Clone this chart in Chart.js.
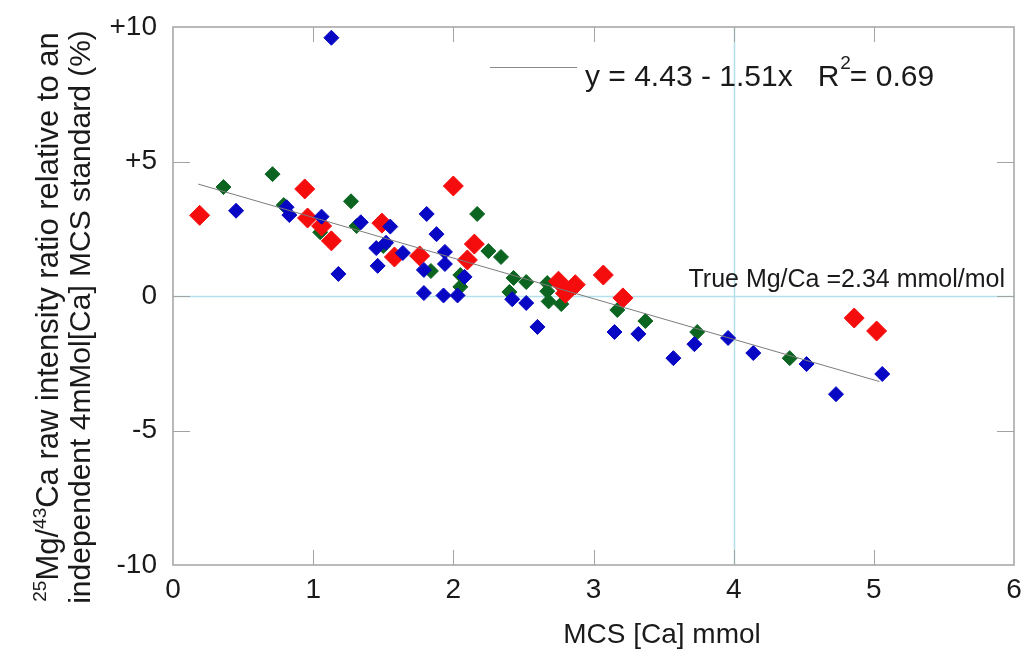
<!DOCTYPE html>
<html>
<head>
<meta charset="utf-8">
<script src="https://cdn.jsdelivr.net/npm/chart.js@4/dist/chart.umd.min.js"></script>
<style>
  html, body { margin: 0; padding: 0; background: #ffffff; }
  #wrap { width: 1026px; height: 657px; }
</style>
</head>
<body>
<div id="wrap"><canvas id="c" width="1026" height="657"></canvas></div>
<script>
// ---- data ----
const blueX = [1.13, 0.45, 0.81, 0.83, 1.06, 1.18, 1.34, 1.55, 1.45, 1.52, 1.46, 1.64, 1.81, 1.88, 1.94, 1.94, 1.79, 1.79, 1.93, 2.03, 2.08, 2.42, 2.52, 2.60, 3.15, 3.32, 3.57, 3.72, 3.96, 4.14, 4.52, 4.73, 5.06];
const blueY = [9.60, 3.17, 3.30, 3.01, 2.95, 0.82, 2.74, 2.58, 1.78, 1.98, 1.12, 1.60, 3.05, 2.30, 1.64, 1.19, 0.97, 0.11, 0.02, 0.02, 0.71, -0.12, -0.26, -1.15, -1.34, -1.41, -2.31, -1.79, -1.56, -2.12, -2.53, -3.65, -2.90];

const greenX = [0.36, 0.71, 0.79, 1.05, 1.27, 1.31, 1.50, 1.84, 2.05, 2.05, 2.17, 2.25, 2.34, 2.43, 2.52, 2.40, 2.67, 2.67, 2.68, 2.77, 3.17, 3.37, 3.74, 4.40];
const greenY = [4.05, 4.53, 3.38, 2.37, 3.52, 2.60, 1.86, 0.93, 0.78, 0.34, 3.05, 1.67, 1.45, 0.67, 0.52, 0.15, 0.48, 0.18, -0.20, -0.30, -0.52, -0.93, -1.34, -2.31];

const redX = [0.19, 0.94, 0.96, 1.06, 1.13, 1.49, 1.58, 1.76, 2.00, 2.15, 2.10, 2.75, 2.87, 2.80, 3.07, 3.21, 4.86, 5.02];
const redY = [3.00, 3.98, 2.90, 2.60, 2.05, 2.71, 1.45, 1.49, 4.09, 1.93, 1.34, 0.55, 0.42, 0.10, 0.78, -0.07, -0.82, -1.30];

// fitted line end points (y = 4.43 - 1.51x)
const fitX = [0.18, 5.04];
const fitY = [4.16, -3.18];

const xTickValues = [0, 1, 2, 3, 4, 5, 6];
const xTickLabels = ['0', '1', '2', '3', '4', '5', '6'];
const yTickValues = [-10, -5, 0, 5, 10];
const yTickLabels = ['-10', '-5', '0', '+5', '+10'];

const refX = 4;      // vertical reference line
const refY = 0;      // horizontal reference line
const eqText = ['y = 4.43 - 1.51x   R', '2', '= 0.69'];
const trueText = 'True Mg/Ca =2.34 mmol/mol';
const xTitle = 'MCS [Ca] mmol';
const yTitle1 = [['25', true], ['Mg/', false], ['43', true], ['Ca raw intensity ratio relative to an', false]];
const yTitle2 = 'independent 4mMol[Ca] MCS standard (%)';

// ---- helpers ----
const pts = (xs, ys) => xs.map((x, i) => ({ x: x, y: ys[i] }));
const FONT = '"Liberation Sans", Arial, sans-serif';
const AXIS_GRAY = '#a3a3a3';
const REF_CYAN = '#b3e0ea';

const decor = {
  id: 'decor',
  beforeDatasetsDraw(chart) {
    const ctx = chart.ctx, a = chart.chartArea;
    const xs = chart.scales.x, ys = chart.scales.y;
    ctx.save();
    ctx.strokeStyle = REF_CYAN;
    ctx.lineWidth = 1.5;
    ctx.beginPath();
    const rx = Math.round(xs.getPixelForValue(refX)) + 0.5;
    ctx.moveTo(rx, a.top); ctx.lineTo(rx, a.bottom);
    const ry = Math.round(ys.getPixelForValue(refY)) + 0.5;
    ctx.moveTo(a.left, ry); ctx.lineTo(a.right, ry);
    ctx.stroke();
    ctx.strokeStyle = AXIS_GRAY;
    ctx.lineWidth = 1.5;
    ctx.strokeRect(a.left, a.top, a.right - a.left, a.bottom - a.top);
    ctx.lineWidth = 1;
    ctx.beginPath();
    xTickValues.forEach(v => {
      if (v === xs.min || v === xs.max) return;
      const px = Math.round(xs.getPixelForValue(v)) + 0.5;
      ctx.moveTo(px, a.bottom); ctx.lineTo(px, a.bottom - 15);
      ctx.moveTo(px, a.top); ctx.lineTo(px, a.top + 15);
    });
    yTickValues.forEach(v => {
      if (v === ys.min || v === ys.max) return;
      const py = Math.round(ys.getPixelForValue(v)) + 0.5;
      ctx.moveTo(a.left, py); ctx.lineTo(a.left + 17, py);
      ctx.moveTo(a.right, py); ctx.lineTo(a.right - 17, py);
    });
    ctx.stroke();
    ctx.restore();
  },
  afterDraw(chart) {
    const ctx = chart.ctx;
    ctx.save();
    ctx.fillStyle = '#1a1a1a';
    ctx.textBaseline = 'alphabetic';
    // equation legend
    ctx.strokeStyle = '#8a8a8a';
    ctx.lineWidth = 1;
    ctx.beginPath();
    ctx.moveTo(490, 67.5); ctx.lineTo(577, 67.5);
    ctx.stroke();
    ctx.font = '30px ' + FONT;
    ctx.textAlign = 'left';
    let x = 585;
    ctx.fillText(eqText[0], x, 86);
    x += ctx.measureText(eqText[0]).width;
    ctx.font = '19px ' + FONT;
    ctx.fillText(eqText[1], x + 1, 69);
    x += ctx.measureText(eqText[1]).width;
    ctx.font = '30px ' + FONT;
    ctx.fillText(eqText[2], x, 86);
    // true value text
    ctx.font = '25px ' + FONT;
    ctx.textAlign = 'right';
    ctx.fillText(trueText, 1005, 287);
    // x title
    ctx.font = '28px ' + FONT;
    ctx.textAlign = 'center';
    ctx.fillText(xTitle, 662, 643);
    // y title (rotated, two lines)
    const cy = 317;
    ctx.save();
    ctx.translate(58, cy);
    ctx.rotate(-Math.PI / 2);
    let total = 0;
    yTitle1.forEach(([t, sup]) => {
      ctx.font = (sup ? '19px ' : '31px ') + FONT;
      total += ctx.measureText(t).width;
    });
    let px = -total / 2;
    ctx.textAlign = 'left';
    yTitle1.forEach(([t, sup]) => {
      ctx.font = (sup ? '19px ' : '31px ') + FONT;
      ctx.fillText(t, px, sup ? -12 : 0);
      px += ctx.measureText(t).width;
    });
    ctx.restore();
    ctx.save();
    ctx.translate(90, cy);
    ctx.rotate(-Math.PI / 2);
    ctx.font = '30px ' + FONT;
    ctx.textAlign = 'center';
    ctx.fillText(yTitle2, 0, 0);
    ctx.restore();
    ctx.restore();
  }
};

new Chart(document.getElementById('c'), {
  type: 'scatter',
  data: {
    datasets: [
      { label: 'fit', type: 'line', data: pts(fitX, fitY), showLine: true, borderColor: '#7c7c7c', borderWidth: 1, pointRadius: 0, fill: false, order: 0 },
      { label: 'blue', data: pts(blueX, blueY), pointStyle: 'rectRot', pointRadius: 7.5, backgroundColor: '#0707c4', borderColor: '#0707c4', borderWidth: 1, order: 1 },
      { label: 'red', data: pts(redX, redY), pointStyle: 'rectRot', pointRadius: 10, backgroundColor: '#f50c0c', borderColor: '#f50c0c', borderWidth: 1, order: 2 },
      { label: 'green', data: pts(greenX, greenY), pointStyle: 'rectRot', pointRadius: 7.5, backgroundColor: '#0b6520', borderColor: '#0b6520', borderWidth: 1, order: 3 }
    ]
  },
  options: {
    responsive: false,
    animation: false,
    devicePixelRatio: 1,
    layout: { padding: { top: 27, right: 12, left: 0, bottom: 0 } },
    plugins: { legend: { display: false }, tooltip: { enabled: false } },
    scales: {
      x: {
        type: 'linear', min: 0, max: 6,
        afterBuildTicks: s => { s.ticks = xTickValues.map(v => ({ value: v })); },
        afterFit: s => { s.height = 92; s.paddingLeft = 0; s.paddingRight = 0; },
        grid: { display: false, drawTicks: false },
        border: { display: false },
        ticks: { padding: 8, color: '#1a1a1a', font: { size: 28, family: FONT }, callback: v => xTickLabels[xTickValues.indexOf(v)] }
      },
      y: {
        type: 'linear', min: -10, max: 10,
        afterBuildTicks: s => { s.ticks = yTickValues.map(v => ({ value: v })); },
        afterFit: s => { s.width = 173; s.paddingTop = 0; s.paddingBottom = 0; },
        grid: { display: false, drawTicks: false },
        border: { display: false },
        ticks: { padding: 16, color: '#1a1a1a', font: { size: 28, family: FONT }, callback: v => yTickLabels[yTickValues.indexOf(v)] }
      }
    }
  },
  plugins: [decor]
});
</script>
</body>
</html>
